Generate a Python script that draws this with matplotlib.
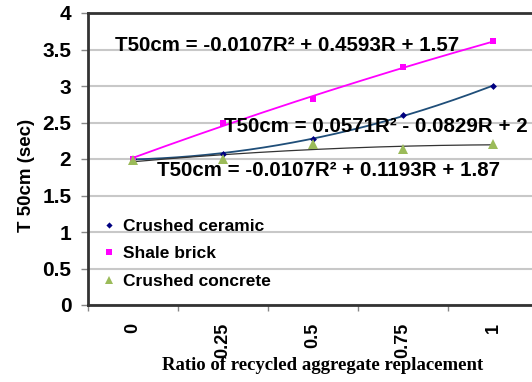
import numpy as np
import matplotlib
matplotlib.use("Agg")
import matplotlib.pyplot as plt
from matplotlib.lines import Line2D

plt.rcParams['font.family'] = ['Liberation Sans', 'DejaVu Sans']

ratios = ['0', '0.25', '0.5', '0.75', '1']
crushed_ceramic = [2.0, 2.07, 2.28, 2.60, 3.0]
shale_brick = [2.0, 2.50, 2.82, 3.26, 3.61]
crushed_concrete = [1.98, 2.0, 2.20, 2.14, 2.20]

eq_shale = 'T50cm = -0.0107R\u00b2 + 0.4593R + 1.57'
eq_ceramic = 'T50cm = 0.0571R\u00b2 - 0.0829R + 2'
eq_concrete = 'T50cm = -0.0107R\u00b2 + 0.1193R + 1.87'

W, H = 532, 382
fig = plt.figure(figsize=(W / 100, H / 100), dpi=100)
ax = fig.add_axes([88 / W, 77 / H, 450 / W, 292 / H])

x = np.arange(len(ratios))
xs = np.linspace(0, len(ratios) - 1, 200)

series = [
    (crushed_ceramic, 'Crushed ceramic', 'D', 3.5, '#000080', '#1f4e79', 1.3),
    (shale_brick, 'Shale brick', 's', 5, '#ff00ff', '#ff00ff', 1.3),
    (crushed_concrete, 'Crushed concrete', '^', 6.5, '#9bbb59', '#333333', 0.9),
]

handles = []
for vals, name, mk, ms, mcol, lcol, lw in series:
    # second-order trendline through the points
    c = np.polyfit(x, vals, 2)
    ax.plot(xs, np.polyval(c, xs), color=lcol, lw=lw, zorder=3)
    ax.plot(x, vals, linestyle='', marker=mk, markersize=ms, color=mcol,
            markeredgewidth=0, zorder=4)
    handles.append(Line2D([], [], linestyle='', marker=mk, markersize=ms * 0.9,
                          color=mcol, markeredgewidth=0, label=name))

ax.set_xlim(-0.5, len(ratios) - 0.5)
ax.set_ylim(0, 4)
ax.set_yticks(np.arange(0, 4.01, 0.5))
ax.set_yticklabels(['0', '0.5', '1', '1.5', '2', '2.5', '3', '3.5', '4'],
                   fontsize=15, fontweight='bold')
ax.yaxis.grid(True, color='#c8c8c8', lw=1.5)
ax.set_axisbelow(True)

ax.set_xticks(x)
ax.set_xticklabels(ratios, rotation=90, fontsize=13, fontweight='bold',
                   va='top', ha='center')
ax.tick_params(axis='x', length=0, pad=13)
ax.set_xticks(np.arange(-0.5, len(ratios)), minor=True)
ax.tick_params(axis='x', which='minor', length=4, width=1, color='#888888')
ax.tick_params(axis='y', length=5, width=1, color='#888888', pad=7)

for s in ['left', 'bottom', 'top']:
    ax.spines[s].set_linewidth(2)
    ax.spines[s].set_color('#333333')
ax.spines['right'].set_visible(False)

ax.set_ylabel('T 50cm (sec)', fontsize=13.5, fontweight='bold')
ax.yaxis.set_label_coords(-0.118, 0.445)

fig.text(323 / W, 1 - 366 / H, 'Ratio of recycled aggregate replacement',
         family='Liberation Serif', fontweight='bold', fontsize=13.5,
         ha='center', va='center')

ax.text(-0.2, 3.56, eq_shale, fontsize=14.8, fontweight='bold', va='center')
ax.text(1.01, 2.44, eq_ceramic, fontsize=14.8, fontweight='bold', va='center')
ax.text(0.27, 1.84, eq_concrete, fontsize=14.8, fontweight='bold', va='center')

ax.legend(handles=handles, loc='upper left', bbox_to_anchor=(0.0, 0.35),
          frameon=False, prop={'weight': 'bold', 'size': 12.5},
          handlelength=0.6, handletextpad=0.5, labelspacing=0.72)

fig.savefig('out.png', dpi=100)
